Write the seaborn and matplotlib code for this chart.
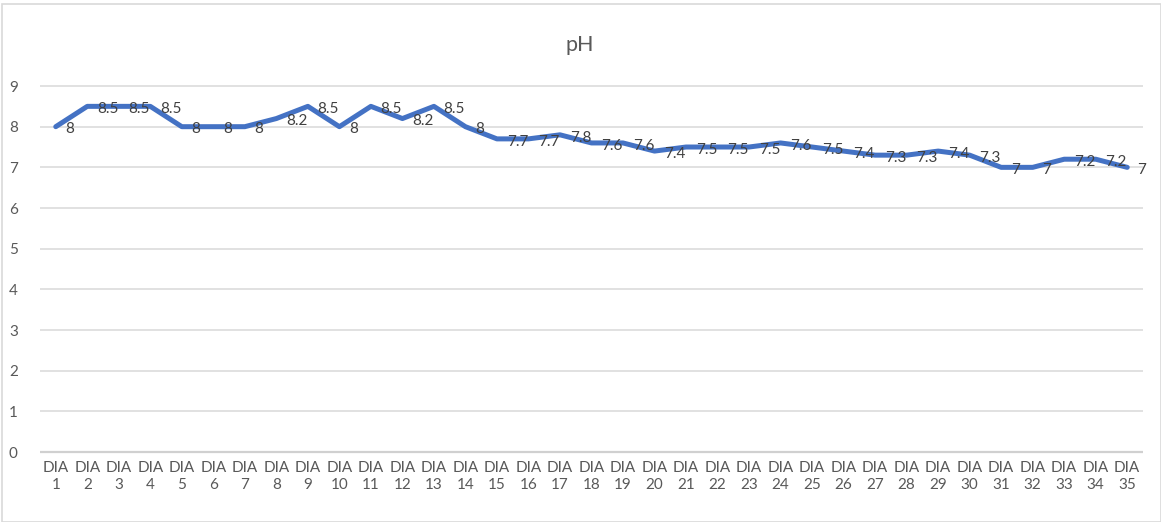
import matplotlib
matplotlib.use("Agg")
import matplotlib.pyplot as plt
import seaborn as sns
import pandas as pd
from matplotlib.patches import Rectangle

days = [f"DIA\n{i}" for i in range(1, 36)]
ph = [8, 8.5, 8.5, 8.5, 8, 8, 8, 8.2, 8.5, 8, 8.5, 8.2, 8.5, 8, 7.7, 7.7, 7.8,
      7.6, 7.6, 7.4, 7.5, 7.5, 7.5, 7.6, 7.5, 7.4, 7.3, 7.3, 7.4, 7.3, 7, 7,
      7.2, 7.2, 7]
yticks = list(range(0, 10))

sns.set_theme(style="white")
plt.rcParams['font.family'] = ['Lato', 'DejaVu Sans']

df = pd.DataFrame({"idx": range(len(days)), "ph": ph})

fig = plt.figure(figsize=(11.61, 5.22), dpi=100)
y_top_px, y_bot_px = 84.8, 458.1
ax = fig.add_axes([40/1161, (522 - y_bot_px)/522, (1143-40)/1161, (y_bot_px - y_top_px)/522])

fig.patches.append(Rectangle((2/1161, 0), 1 - 2/1161, 1 - 4/522, transform=fig.transFigure,
                             fill=False, edgecolor="#D9D9D9", linewidth=1.2))

sns.lineplot(data=df, x="idx", y="ph", ax=ax, color="#4472C4", linewidth=3.6)

ax.set_xlim(-0.5, len(days) - 0.5)
ax.set_ylim(-0.15, 9.03)
ax.set_yticks(yticks)
ax.set_xticks(range(len(days)))
ax.set_xticklabels(days, color="#595959", fontsize=11, linespacing=1.25)
ax.set_yticklabels([str(t) for t in yticks], color="#595959", fontsize=11)
ax.tick_params(axis="both", length=0)
ax.tick_params(axis="x", pad=2)
ax.tick_params(axis="y", pad=16)
ax.yaxis.grid(True, color="#D9D9D9", linewidth=1.1)
ax.axhline(0, color="#D0D0D0", linewidth=1.6, zorder=1)
ax.set_axisbelow(True)
for s in ax.spines.values():
    s.set_visible(False)
ax.set_xlabel("")
ax.set_ylabel("")

for i, v in enumerate(ph):
    ax.annotate(f"{v:g}", (i, v), xytext=(7, -2), textcoords="offset points",
                ha="left", va="center", fontsize=11, color="#404040")

fig.text(580/1161, 1 - 45/522, "pH", ha="center", va="center", fontsize=15.5, color="#595959")

fig.savefig("out.png", dpi=100)
